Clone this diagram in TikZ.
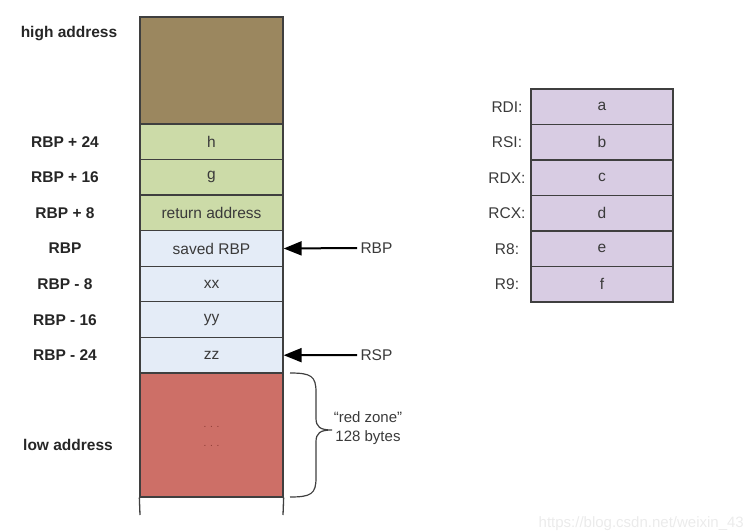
\documentclass[tikz,border=0pt]{standalone}
\usepackage{fontspec}
\setmainfont{Liberation Sans}
\usetikzlibrary{arrows.meta}
\definecolor{brownc}{HTML}{9B875F}
\definecolor{greenc}{HTML}{CCDBA8}
\definecolor{bluec}{HTML}{E4ECF7}
\definecolor{redc}{HTML}{CD6F67}
\definecolor{purplec}{HTML}{D8CCE3}
\definecolor{bordc}{HTML}{3F3F3F}
\definecolor{txtc}{HTML}{3A3A3A}
\definecolor{dotc}{HTML}{8B3A34}
\begin{document}
\begin{tikzpicture}[x=1pt,y=-1pt,
  cell/.style={draw=bordc, line width=1.3pt, minimum width=143pt, inner sep=0pt, text=txtc, font=\fontsize{15.5}{17}\selectfont},
  lbl/.style={font=\bfseries\fontsize{15.5}{17}\selectfont, text=black!85},
  rlbl/.style={font=\fontsize{15.5}{17}\selectfont, text=txtc},
  reg/.style={cell, fill=purplec, minimum width=142pt, minimum height=35.5pt},
  ptr/.style={line width=2pt, black, -{Triangle[length=18pt,width=14pt]}},
  brc/.style={draw=bordc, line width=1.2pt}
]
\useasboundingbox (0,0) rectangle (746,530);
\clip (0,0) rectangle (746,530);

% watermark
\node[anchor=base east, text=black!8, font=\fontsize{15}{17}\selectfont, inner sep=0pt] (wm) at (744,527) {https://blog.csdn.net/weixin\_43};

% stack column
\node[cell, fill=brownc, minimum height=107pt] (top) at (211.5,70.5) {};
\node[cell, fill=greenc, minimum height=35.57pt] (h) at (211.5,141.8) {h};
\node[cell, fill=greenc, minimum height=35.57pt] (g) at (211.5,177.4) {g};
\node[cell, fill=greenc, minimum height=35.57pt] (ret) at (211.5,212.9) {return address};
\node[cell, fill=bluec, minimum height=35.57pt] (saved) at (211.5,248.5) {saved RBP};
\node[cell, fill=bluec, minimum height=35.57pt] (xx) at (211.5,284.1) {xx};
\node[cell, fill=bluec, minimum height=35.57pt] (yy) at (211.5,319.6) {yy};
\node[cell, fill=bluec, minimum height=35.57pt] (zz) at (211.5,355.2) {zz};
\node[cell, fill=redc, minimum height=124pt] (red) at (211.5,435) {};
\node[text=dotc, font=\fontsize{10}{11}\selectfont, inner sep=0pt] (d1) at (211.5,427) {. . .};
\node[text=dotc, font=\fontsize{10}{11}\selectfont, inner sep=0pt] (d2) at (211.5,446) {. . .};

\coordinate (bl) at (140,515);
\coordinate (br) at (283,515);
\draw[bordc, line width=1.3pt] (red.south west) -- (bl);
\draw[bordc, line width=1.3pt] (red.south east) -- (br);

% left labels
\node[lbl] (lhigh) at (69,34) {high address};
\node[lbl] (l24) at (65,142) {RBP + 24};
\node[lbl] (l16) at (65,177) {RBP + 16};
\node[lbl] (l8) at (65,213) {RBP + 8};
\node[lbl] (l0) at (65,248) {RBP};
\node[lbl] (lm8) at (65,284) {RBP - 8};
\node[lbl] (lm16) at (65,320) {RBP - 16};
\node[lbl] (lm24) at (65,355) {RBP - 24};
\node[lbl] (llow) at (68,445) {low address};

% pointers
\node[rlbl, anchor=west] (prbp) at (357,248) {RBP};
\node[rlbl, anchor=west] (prsp) at (357,355) {RSP};
\draw[ptr] (prbp.west) -- (saved.east);
\draw[ptr] (prsp.west) -- (zz.east);

% brace
\coordinate (btop) at (290,373);
\coordinate (bbot) at (290,497);
\coordinate (btip) at (332,430);
\draw[brc] (btop) .. controls (311,373) and (316,376) .. (316,392)
  -- (316,418) .. controls (316,427) and (320,430) .. (btip)
  .. controls (320,430) and (316,433) .. (316,442)
  -- (316,478) .. controls (316,494) and (311,497) .. (bbot);
\node[rlbl, align=center, font=\fontsize{15}{19}\selectfont] (rz) at (368,428) {``red zone''\\128 bytes};

% registers
\node[reg] (ra) at (602,106.75) {a};
\node[reg] (rb) at (602,142.25) {b};
\node[reg] (rc) at (602,177.75) {c};
\node[reg] (rd) at (602,213.25) {d};
\node[reg] (re) at (602,248.75) {e};
\node[reg] (rf) at (602,284.25) {f};
\node[rlbl] (nrdi) at (507,106.75) {RDI:};
\node[rlbl] (nrsi) at (507,142.25) {RSI:};
\node[rlbl] (nrdx) at (507,177.75) {RDX:};
\node[rlbl] (nrcx) at (507,213.25) {RCX:};
\node[rlbl] (nr8) at (507,248.75) {R8:};
\node[rlbl] (nr9) at (507,284.25) {R9:};
\end{tikzpicture}
\end{document}
